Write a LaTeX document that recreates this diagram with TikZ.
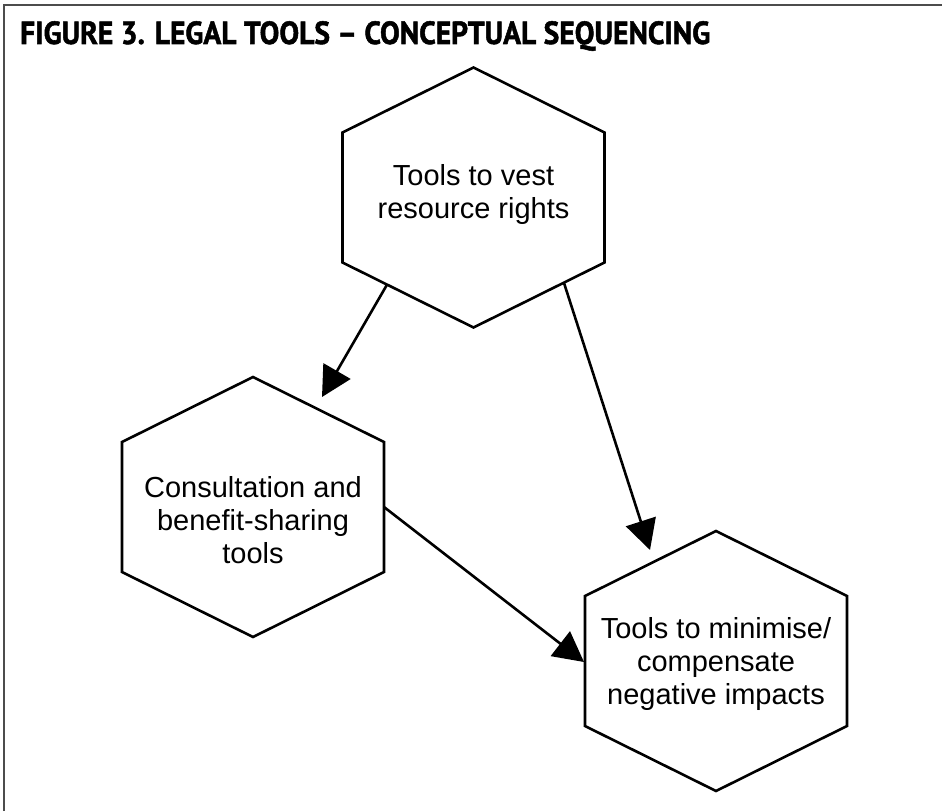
\documentclass[tikz,border=0pt]{standalone}
\usepackage{fontspec}
\setmainfont{Liberation Sans}
\newfontfamily\titlefont{PT Sans}[BoldFeatures={FakeBold=1.6}]
\usetikzlibrary{arrows.meta,calc}
\begin{document}
\begin{tikzpicture}[x=1pt,y=-1pt,
  hexline/.style={line width=2.6pt, line join=miter},
  hextext/.style={align=center, inner sep=0pt, font=\fontsize{29}{33}\selectfont},
  conn/.style={line width=2.6pt, -{Triangle[length=30pt,width=31pt]}},
  frame/.style={line width=2pt, draw=black!70}
]
\useasboundingbox (0,0) rectangle (942,811);
% frame
\draw[frame] (4,811) -- (4,5) -- (942,5);
% title
\node[anchor=base west, inner sep=0pt] (title) at (20,44)
  {\resizebox{690pt}{\height}{\titlefont\bfseries\fontsize{32}{34}\selectfont FIGURE 3. LEGAL TOOLS – CONCEPTUAL SEQUENCING}};
% hexagon vertex helper
\newcommand{\hexverts}[3]{%
  \coordinate (#1-t)  at (#2,#3-130);
  \coordinate (#1-ur) at (#2+131,#3-65);
  \coordinate (#1-lr) at (#2+131,#3+65);
  \coordinate (#1-b)  at (#2,#3+130);
  \coordinate (#1-ll) at (#2-131,#3+65);
  \coordinate (#1-ul) at (#2-131,#3-65);
  \draw[hexline] (#1-t) -- (#1-ur) -- (#1-lr) -- (#1-b) -- (#1-ll) -- (#1-ul) -- cycle;}
\hexverts{A}{473.5}{197.5}
\hexverts{B}{253}{507}
\hexverts{C}{716}{661}
% texts
\node[hextext] (a) at (473.5,194) {Tools to vest\\resource rights};
\node[hextext] (b) at (253,520) {Consultation and\\benefit-sharing\\tools};
\node[hextext] (c) at (716,664) {Tools to minimise/\\compensate\\negative impacts};
% connector ends
\coordinate (a1) at ($(A-ll)!0.34!(A-b)$);
\coordinate (a2) at ($(A-b)!0.69!(A-lr)$);
\coordinate (b1) at ($(B-ur)!0.5!(B-lr)$);
\coordinate (btip) at ($(B-t)+(69,20)$);
\coordinate (ctip) at ($(C-t)+(-66,19)$);
\coordinate (ctip2) at ($(C-ul)+(-1,66)$);
\draw[conn] (a1) -- (btip);
\draw[conn] (a2) -- (ctip);
\draw[conn] (b1) -- (ctip2);
\end{tikzpicture}
\end{document}
